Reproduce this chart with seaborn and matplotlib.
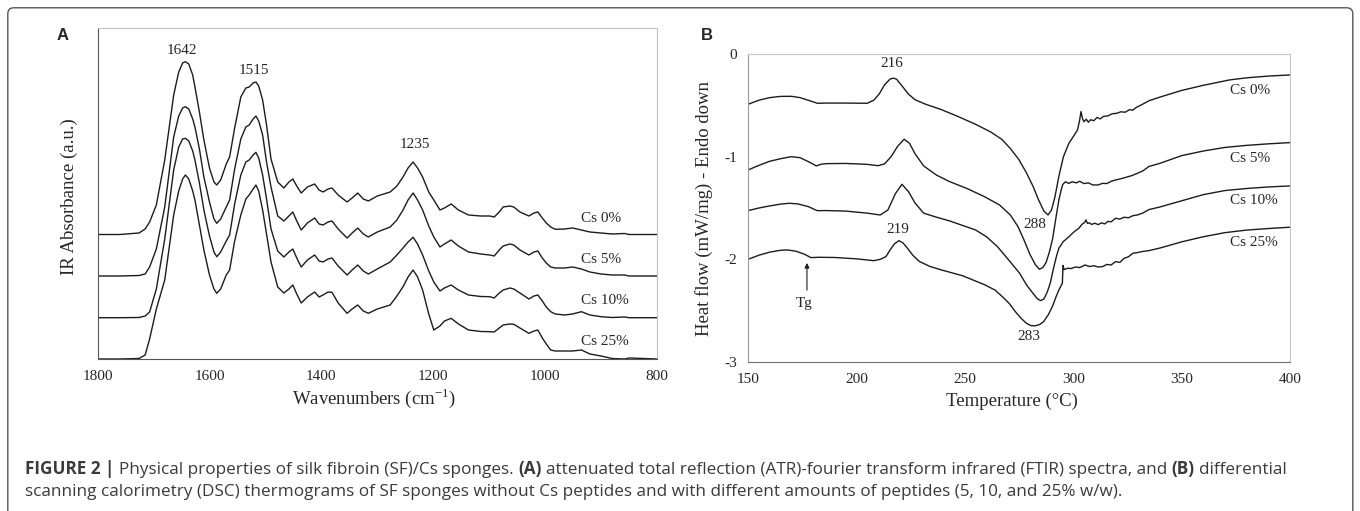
import numpy as np
import pandas as pd
import seaborn as sns
import matplotlib.pyplot as plt
from matplotlib.patches import FancyBboxPatch

sns.set_style('white')
plt.rcParams['font.family'] = ['Liberation Serif', 'DejaVu Serif']
plt.rcParams['axes.unicode_minus'] = False
plt.rcParams['mathtext.fontset'] = 'custom'
plt.rcParams['mathtext.rm'] = 'Liberation Serif'

samples = ['Cs 0%', 'Cs 5%', 'Cs 10%', 'Cs 25%']

# ---- (A) ATR-FTIR, absorbance in arbitrary units (curves already offset) ----
wavenumbers = [1800, 1760, 1726, 1715, 1707, 1695, 1680, 1664, 1655, 1648,
               1643, 1637, 1630, 1626, 1618, 1610, 1600, 1592, 1587, 1580,
               1570, 1564, 1555, 1544, 1535, 1529, 1522, 1517, 1512, 1505,
               1498, 1490, 1478, 1467, 1458, 1451, 1444, 1436, 1425, 1412,
               1404, 1397, 1388, 1381, 1370, 1354, 1345, 1335, 1325, 1316,
               1300, 1277, 1265, 1254, 1245, 1236, 1228, 1219, 1208, 1199,
               1188, 1180, 1168, 1155, 1137, 1115, 1099, 1091, 1082, 1075,
               1063, 1056, 1045, 1029, 1020, 1013, 1005, 998, 990, 982,
               965, 951, 935, 920, 900, 880, 858, 850, 800]
abs_cs0 = [124.5, 124.5, 126, 130, 137, 154, 199, 264, 287, 296,
           297.3, 295, 284, 272, 247, 219, 191, 177, 174, 179,
           195, 202, 231, 262, 271, 272, 276, 277, 273, 259,
           234, 200, 177, 171, 177, 180, 173, 166, 172, 175,
           169, 167, 170, 171, 164, 157, 161, 166, 160, 158,
           163, 167, 173, 182, 191, 197, 191, 182, 167, 159,
           149, 151, 155, 149, 144, 143, 143, 142, 147, 152,
           153, 152, 147, 143, 146, 147, 141, 136, 132, 129.7,
           130, 131, 129, 127, 126, 125, 125.5, 124.5, 124.5]
abs_cs5 = [83, 83, 83.5, 85, 92, 110, 152, 222, 243, 251,
           252.3, 250, 240, 232, 210, 182, 157, 140, 135.7, 140,
           152, 159, 190, 220, 232, 234, 240, 243, 238, 224,
           197, 172, 143, 138, 143, 147, 138, 129, 136, 141,
           135, 134, 137, 138, 130, 121, 126, 131, 125, 122,
           127, 132, 139, 149, 159, 166, 159, 149, 133, 122,
           112, 115, 119, 113, 107, 105, 104, 103, 109, 113,
           115, 114, 109, 104, 107, 108, 101, 96, 92, 91,
           91, 92, 90, 87, 85, 84, 84, 83, 83]
abs_cs10 = [41.3, 41.3, 41.5, 43, 47, 70, 120, 189, 212, 220,
            220.7, 218, 208, 199, 176, 149, 123, 107, 102.3, 107,
            118, 124, 155, 184, 197, 199, 204, 206.7, 201, 184,
            160, 130, 108, 102, 107, 110, 101, 92, 99, 104,
            98, 97, 100, 101, 93, 84, 89, 94, 88, 85,
            90, 97, 104, 111, 117, 121.7, 115, 104, 88, 77,
            68, 71, 74, 69, 64, 62.5, 62.3, 61, 66, 69,
            71, 70, 66, 60, 63, 64, 58, 52, 47.3, 45,
            44, 45, 47.3, 44, 42.3, 41.5, 42, 41.3, 41.3]
abs_cs25 = [0, 0, 0.5, 4, 20, 50, 79, 144, 168, 180,
            184, 180, 168, 159, 134, 109, 84, 70, 65.7, 70,
            84, 89, 118, 144, 160, 164, 170, 174, 168, 149,
            125, 97, 72, 66, 70, 74, 65, 56, 62, 67,
            62, 64, 67, 66.7, 56, 45.7, 50, 54, 48, 45.7,
            50, 54, 63, 72.3, 82, 89, 82, 69, 45, 29,
            33, 38, 40.7, 35, 29, 27.5, 27.3, 27, 31, 34,
            35, 34.7, 31, 25.7, 28, 29, 21, 15, 9, 8,
            8, 8, 9, 5, 3, 0.5, 0, 1, 0]
ftir_peaks = ['1642', '1515', '1235']
ftir_peak_pos = [(1649, 309), (1521, 289), (1232, 215)]
ftir_label_y = [140.7, 99.7, 59, 17.3]

# ---- (B) DSC heat flow (mW/mg) ----
t_cs0 = [150, 155, 160, 165, 170, 174, 178, 182, 186, 195, 205, 208, 210.5,
         213, 215.5, 217, 218.5, 221, 224, 227, 232, 239, 247, 255, 262,
         267, 271, 275, 278.5, 281.5, 284, 286.5, 288.4, 290, 291.5, 293.5,
         295.5, 298, 300.5, 302, 303, 303.6, 304.3, 305, 306, 307, 308,
         309.5, 311, 312.5, 314, 316, 318, 320, 322, 324, 326, 327.5, 329,
         331, 335, 340, 350, 360, 372, 380, 390, 400]
hf_cs0 = [-0.49, -0.45, -0.425, -0.413, -0.412, -0.425, -0.452, -0.48,
          -0.478, -0.478, -0.48, -0.45, -0.39, -0.30, -0.245, -0.235,
          -0.245, -0.31, -0.39, -0.445, -0.49, -0.54, -0.61, -0.685, -0.76,
          -0.83, -0.92, -1.03, -1.16, -1.29, -1.42, -1.53, -1.568, -1.52,
          -1.40, -1.18, -1.00, -0.87, -0.79, -0.74, -0.64, -0.56, -0.63,
          -0.66, -0.635, -0.665, -0.64, -0.65, -0.618, -0.632, -0.607,
          -0.603, -0.582, -0.578, -0.563, -0.567, -0.542, -0.547, -0.522,
          -0.50, -0.455, -0.42, -0.355, -0.305, -0.253, -0.232, -0.215,
          -0.204]
t_cs5 = [150, 155, 160, 165, 170, 174, 178, 181.5, 183.5, 186, 195, 205, 210,
         213, 216, 219, 222, 224.5, 227, 231, 237, 243, 251, 259, 266, 271,
         274.5, 277.3, 280, 282.5, 284.4, 286, 287.5, 289, 290.5, 292, 293.4,
         294.5, 295.2, 296.4, 298, 299.5, 301.4, 303, 305, 307, 309, 311.5,
         313.5, 315.5, 317.5, 319.5, 322, 324.5, 327, 329.6, 332, 335, 340,
         350, 360, 370, 380, 390, 400]
hf_cs5 = [-1.13, -1.085, -1.045, -1.02, -1.0, -1.01, -1.05, -1.09, -1.075,
          -1.068, -1.066, -1.075, -1.088, -1.07, -1.0, -0.90, -0.83, -0.87,
          -0.97, -1.09, -1.18, -1.243, -1.31, -1.389, -1.47, -1.568, -1.68,
          -1.811, -1.95, -2.05, -2.097, -2.08, -2.03, -1.93, -1.80, -1.60,
          -1.42, -1.32, -1.27, -1.245, -1.26, -1.245, -1.255, -1.24, -1.262,
          -1.255, -1.275, -1.276, -1.26, -1.262, -1.24, -1.227, -1.215,
          -1.2, -1.185, -1.162, -1.14, -1.095, -1.065, -0.99, -0.945, -0.91,
          -0.89, -0.875, -0.863]
t_cs10 = [150, 155, 160, 165, 169, 173, 177.9, 181.9, 186, 195, 205, 211,
          214.5, 218, 221, 224, 227, 231, 237, 243, 249, 255, 260, 265, 270,
          275.3, 278.5, 281.4, 283.5, 285, 286.5, 288, 289.4, 291, 292.4,
          293.4, 295.4, 298, 300.5, 302.5, 304, 305.3, 305.9, 306.6, 307.5,
          308.5, 310, 311.5, 313, 314.6, 316, 317.5, 319.5, 321.5, 323.5,
          325.5, 327.5, 329.6, 332, 335, 340, 350, 360, 370, 380, 390, 400]
hf_cs10 = [-1.526, -1.50, -1.48, -1.462, -1.454, -1.46, -1.487, -1.526,
           -1.525, -1.53, -1.55, -1.568, -1.52, -1.36, -1.269, -1.34, -1.45,
           -1.55, -1.59, -1.626, -1.67, -1.714, -1.78, -1.875, -2.0, -2.136,
           -2.25, -2.33, -2.385, -2.402, -2.385, -2.32, -2.233, -2.08, -1.96,
           -1.892, -1.828, -1.78, -1.73, -1.70, -1.66, -1.64, -1.616, -1.65,
           -1.645, -1.66, -1.648, -1.662, -1.645, -1.655, -1.63, -1.635,
           -1.60, -1.608, -1.59, -1.595, -1.575, -1.568, -1.55, -1.515, -1.49,
           -1.43, -1.37, -1.33, -1.31, -1.295, -1.285]
t_cs25 = [150, 155, 160, 165, 168, 172, 176, 179, 183, 190, 200, 208, 211,
          213.6, 215.5, 217.5, 219.6, 221.5, 223.5, 226, 229, 234, 239.2, 249,
          259.3, 264, 267.3, 270.5, 273.3, 276, 278.4, 280.4, 282.4, 284.5,
          286.4, 288.5, 290.4, 292, 293.4, 295, 295.3, 295.8, 297.4, 299, 301,
          303, 305.5, 307.5, 309.5, 311.5, 313.5, 315.5, 317.5, 319.5, 321.5,
          323.5, 325.5, 327.6, 329.5, 331.6, 335, 340, 350, 360, 370, 380,
          390, 400]
hf_cs25 = [-2.0, -1.96, -1.93, -1.912, -1.908, -1.92, -1.95, -1.983, -1.98,
           -1.982, -1.995, -2.013, -2.0, -1.974, -1.91, -1.85, -1.818, -1.84,
           -1.89, -1.96, -2.02, -2.07, -2.103, -2.16, -2.249, -2.30, -2.363,
           -2.43, -2.509, -2.575, -2.622, -2.645, -2.648, -2.635, -2.606,
           -2.54, -2.46, -2.37, -2.298, -2.233, -2.06, -2.10, -2.087, -2.09,
           -2.075, -2.08, -2.055, -2.07, -2.062, -2.075, -2.071, -2.05, -2.055,
           -2.022, -2.03, -1.99, -1.975, -1.94, -1.935, -1.925, -1.915, -1.89,
           -1.83, -1.78, -1.74, -1.715, -1.70, -1.687]
dsc_notes = [('216', 216.3, -0.097), ('219', 219.1, -1.714),
             ('288', 282.4, -1.665), ('283', 279.3, -2.753)]
dsc_label_y = [-0.357, -1.022, -1.428, -1.837]
tg_temp = 177.2

caption_1 = [('FIGURE 2 |', 'bold'),
             ('Physical properties of silk fibroin (SF)/Cs sponges.', 'normal'),
             ('(A)', 'bold'),
             ('attenuated total reflection (ATR)-fourier transform infrared (FTIR) spectra, and', 'normal'),
             ('(B)', 'bold'),
             ('differential', 'normal')]
caption_2 = [('scanning calorimetry (DSC) thermograms of SF sponges without Cs peptides '
              'and with different amounts of peptides (5, 10, and 25% w/w).', 'normal')]

ftir = pd.DataFrame({
    'wavenumber': wavenumbers * 4,
    'absorbance': abs_cs0 + abs_cs5 + abs_cs10 + abs_cs25,
    'sample': [s for s in samples for _ in wavenumbers],
})
dsc = pd.DataFrame({
    'temperature': t_cs0 + t_cs5 + t_cs10 + t_cs25,
    'heat_flow': hf_cs0 + hf_cs5 + hf_cs10 + hf_cs25,
    'sample': (['Cs 0%'] * len(t_cs0) + ['Cs 5%'] * len(t_cs5)
               + ['Cs 10%'] * len(t_cs10) + ['Cs 25%'] * len(t_cs25)),
})

W, H = 1360, 511
fig = plt.figure(figsize=(W / 100, H / 100), dpi=100)


def px_rect(l, t, r, b):
    return [l / W, 1 - b / H, (r - l) / W, (b - t) / H]


line_c = '#1c1c1c'
ax_a = fig.add_axes(px_rect(97.6, 27.7, 657, 359))
ax_b = fig.add_axes(px_rect(748, 54, 1290, 362))

# panel A
sns.lineplot(data=ftir, x='wavenumber', y='absorbance', units='sample',
             estimator=None, color=line_c, lw=1.0, ax=ax_a, legend=False)
ax_a.set_xlim(1800, 800)
ax_a.set_ylim(0, 331.3)
ax_a.set_xticks([1800, 1600, 1400, 1200, 1000, 800])
ax_a.set_yticks([])
ax_a.tick_params(axis='x', direction='out', length=3, width=0.8,
                 color='#999999', pad=4.8, labelsize=11)
for side, col in [('left', '#555555'), ('bottom', '#555555'),
                  ('top', '#c4c4c4'), ('right', '#c4c4c4')]:
    ax_a.spines[side].set_color(col)
    ax_a.spines[side].set_linewidth(0.8)
ax_a.set_xlabel('Wavenumbers (cm$^{\\mathregular{-1}}$)', fontsize=13.5)
ax_a.xaxis.label.set_va('center')
ax_a.xaxis.set_label_coords(0.495, -0.119)
ax_a.set_ylabel('IR Absorbance (a.u.)', fontsize=13.5)
ax_a.yaxis.label.set_va('center')
ax_a.yaxis.set_label_coords(-0.051, 0.489)
for txt, (x, y) in zip(ftir_peaks, ftir_peak_pos):
    ax_a.text(x, y, txt, ha='center', va='center', fontsize=11)
for s, y in zip(samples, ftir_label_y):
    ax_a.text(936, y, s, ha='left', va='center', fontsize=11)

# panel B
sns.lineplot(data=dsc, x='temperature', y='heat_flow', units='sample',
             estimator=None, color=line_c, lw=1.0, ax=ax_b, legend=False)
ax_b.set_xlim(150, 400)
ax_b.set_ylim(-3, 0)
ax_b.set_xticks([150, 200, 250, 300, 350, 400])
ax_b.set_yticks([-3, -2, -1, 0])
ax_b.tick_params(direction='out', length=3, width=0.8, color='#999999',
                 pad=5, labelsize=11)
for side, col in [('left', '#9a9a9a'), ('bottom', '#707070'),
                  ('top', '#c8c8c8'), ('right', '#c8c8c8')]:
    ax_b.spines[side].set_color(col)
    ax_b.spines[side].set_linewidth(0.8)
ax_b.set_xlabel('Temperature (°C)', fontsize=13.5)
ax_b.xaxis.label.set_va('center')
ax_b.xaxis.set_label_coords(0.487, -0.128)
ax_b.set_ylabel('Heat flow (mW/mg) - Endo down', fontsize=13.5)
ax_b.yaxis.label.set_va('center')
ax_b.yaxis.set_label_coords(-0.081, 0.5)
for txt, x, y in dsc_notes:
    ax_b.text(x, y, txt, ha='center', va='center', fontsize=11)
for s, y in zip(samples, dsc_label_y):
    ax_b.text(372.3, y, s, ha='left', va='center', fontsize=11)
ax_b.annotate('', xy=(tg_temp, -2.035), xytext=(tg_temp, -2.30),
              arrowprops=dict(arrowstyle='-|>', lw=0.8, color=line_c,
                              mutation_scale=7, shrinkA=0, shrinkB=0))
ax_b.text(175.8, -2.43, 'Tg', ha='center', va='center', fontsize=11)

# panel letters
for letter, x in [('A', 57), ('B', 701)]:
    fig.text(x / W, 1 - 40.5 / H, letter, fontsize=12, fontweight='bold',
             family=['Liberation Sans', 'DejaVu Sans'], va='baseline', ha='left')

# frame around the figure
fig.add_artist(FancyBboxPatch((0.078, -0.2), 13.45, 5.232,
                              boxstyle='round,pad=0,rounding_size=0.06',
                              transform=fig.dpi_scale_trans, fill=False,
                              ec='#555555', lw=1.0, clip_on=False))

# caption with mixed weights
renderer = fig.canvas.get_renderer()
cap_family = ['Open Sans', 'Liberation Sans', 'DejaVu Sans']
cap_color = '#3a3a3a'


def text_width(s, size, weight):
    t = fig.text(0, 0, s, fontsize=size, fontweight=weight, family=cap_family)
    w = t.get_window_extent(renderer=renderer).width
    t.remove()
    return w


def line_width(runs, size):
    sp = text_width('a a', size, 'normal') - text_width('aa', size, 'normal')
    return sum(text_width(s, size, w) for s, w in runs) + sp * (len(runs) - 1)


cap_size = 10.5
fit = cap_size * (1286 - 25) / line_width(caption_1, cap_size)
cap_size = min(max(fit, 9.5), 12.8)


def draw_runs(runs, x_px, base_px, size):
    sp = text_width('a a', size, 'normal') - text_width('aa', size, 'normal')
    x = x_px
    for s, weight in runs:
        t = fig.text(x / W, 1 - base_px / H, s, fontsize=size, fontweight=weight,
                     family=cap_family, color=cap_color, va='baseline', ha='left')
        x += t.get_window_extent(renderer=renderer).width + sp


draw_runs(caption_1, 25, 474, cap_size)
draw_runs(caption_2, 25, 496, cap_size)

fig.savefig('out.png', dpi=100)
